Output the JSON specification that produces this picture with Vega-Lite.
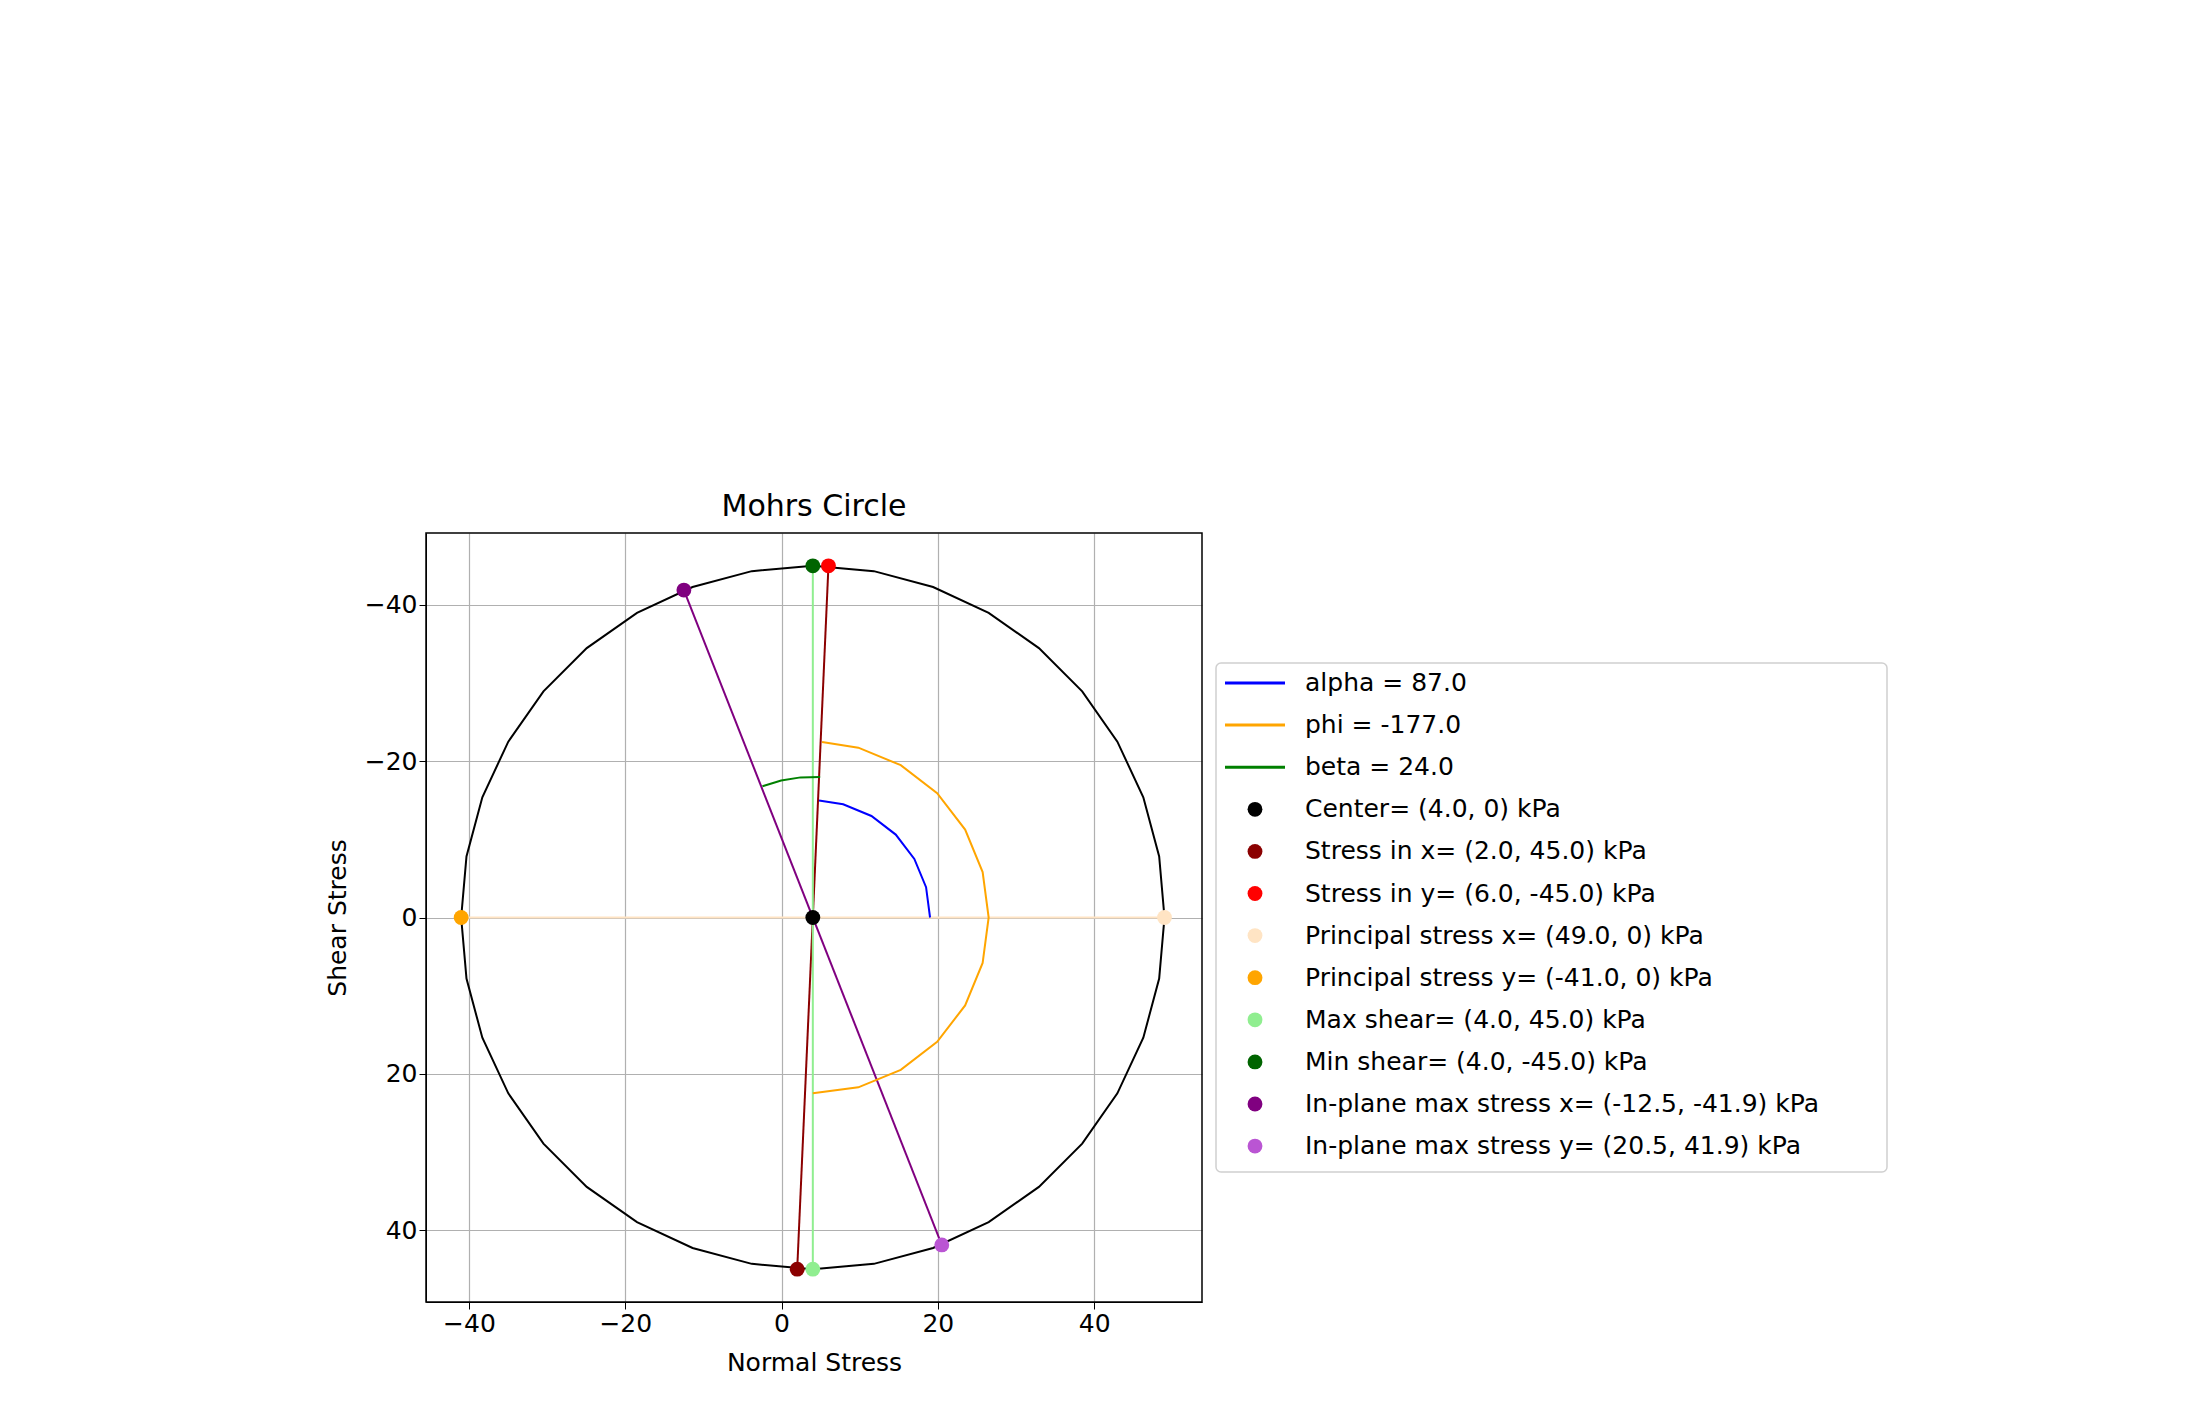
{
  "$schema": "https://vega.github.io/schema/vega-lite/v6.json",
  "background": "white",
  "autosize": {"type": "pad"},
  "padding": {"left": 325, "top": 492, "right": 0, "bottom": 0},
  "config": {
    "font": "DejaVu Sans",
    "view": {"stroke": null},
    "axis": {"labelFont": "DejaVu Sans", "titleFont": "DejaVu Sans", "labelFontSize": 25, "titleFontSize": 25, "titleFontWeight": "normal", "labelColor": "black", "titleColor": "black", "tickColor": "black", "domainColor": "black", "gridColor": "#b0b0b0", "gridWidth": 1.2, "tickSize": 7, "titlePadding": 14}
  },
  "datasets": {
    "lines": [
      {"g": "circle", "o": 0, "x": 49, "y": 0},
      {"g": "circle", "o": 1, "x": 48.32, "y": 7.81},
      {"g": "circle", "o": 2, "x": 46.29, "y": 15.39},
      {"g": "circle", "o": 3, "x": 42.97, "y": 22.5},
      {"g": "circle", "o": 4, "x": 38.47, "y": 28.93},
      {"g": "circle", "o": 5, "x": 32.93, "y": 34.47},
      {"g": "circle", "o": 6, "x": 26.5, "y": 38.97},
      {"g": "circle", "o": 7, "x": 19.39, "y": 42.29},
      {"g": "circle", "o": 8, "x": 11.81, "y": 44.32},
      {"g": "circle", "o": 9, "x": 4, "y": 45},
      {"g": "circle", "o": 10, "x": -3.81, "y": 44.32},
      {"g": "circle", "o": 11, "x": -11.39, "y": 42.29},
      {"g": "circle", "o": 12, "x": -18.5, "y": 38.97},
      {"g": "circle", "o": 13, "x": -24.93, "y": 34.47},
      {"g": "circle", "o": 14, "x": -30.47, "y": 28.93},
      {"g": "circle", "o": 15, "x": -34.97, "y": 22.5},
      {"g": "circle", "o": 16, "x": -38.29, "y": 15.39},
      {"g": "circle", "o": 17, "x": -40.32, "y": 7.81},
      {"g": "circle", "o": 18, "x": -41, "y": 0},
      {"g": "circle", "o": 19, "x": -40.32, "y": -7.81},
      {"g": "circle", "o": 20, "x": -38.29, "y": -15.39},
      {"g": "circle", "o": 21, "x": -34.97, "y": -22.5},
      {"g": "circle", "o": 22, "x": -30.47, "y": -28.93},
      {"g": "circle", "o": 23, "x": -24.93, "y": -34.47},
      {"g": "circle", "o": 24, "x": -18.5, "y": -38.97},
      {"g": "circle", "o": 25, "x": -11.39, "y": -42.29},
      {"g": "circle", "o": 26, "x": -3.81, "y": -44.32},
      {"g": "circle", "o": 27, "x": 4, "y": -45},
      {"g": "circle", "o": 28, "x": 11.81, "y": -44.32},
      {"g": "circle", "o": 29, "x": 19.39, "y": -42.29},
      {"g": "circle", "o": 30, "x": 26.5, "y": -38.97},
      {"g": "circle", "o": 31, "x": 32.93, "y": -34.47},
      {"g": "circle", "o": 32, "x": 38.47, "y": -28.93},
      {"g": "circle", "o": 33, "x": 42.97, "y": -22.5},
      {"g": "circle", "o": 34, "x": 46.29, "y": -15.39},
      {"g": "circle", "o": 35, "x": 48.32, "y": -7.81},
      {"g": "circle", "o": 36, "x": 49, "y": 0},
      {"g": "principal", "o": 0, "x": -41, "y": 0},
      {"g": "principal", "o": 1, "x": 49, "y": 0},
      {"g": "stressxy", "o": 0, "x": 2, "y": 45},
      {"g": "stressxy", "o": 1, "x": 6, "y": -45},
      {"g": "shear", "o": 0, "x": 4, "y": 45},
      {"g": "shear", "o": 1, "x": 4, "y": -45},
      {"g": "inplane", "o": 0, "x": -12.5, "y": -41.9},
      {"g": "inplane", "o": 1, "x": 20.5, "y": 41.9},
      {"g": "alpha", "o": 0, "x": 19, "y": 0},
      {"g": "alpha", "o": 1, "x": 18.49, "y": -3.88},
      {"g": "alpha", "o": 2, "x": 16.99, "y": -7.5},
      {"g": "alpha", "o": 3, "x": 14.61, "y": -10.61},
      {"g": "alpha", "o": 4, "x": 11.5, "y": -12.99},
      {"g": "alpha", "o": 5, "x": 7.88, "y": -14.49},
      {"g": "alpha", "o": 6, "x": 4.79, "y": -14.98},
      {"g": "phi", "o": 0, "x": 5.18, "y": -22.47},
      {"g": "phi", "o": 1, "x": 9.82, "y": -21.73},
      {"g": "phi", "o": 2, "x": 15.25, "y": -19.49},
      {"g": "phi", "o": 3, "x": 19.91, "y": -15.91},
      {"g": "phi", "o": 4, "x": 23.49, "y": -11.25},
      {"g": "phi", "o": 5, "x": 25.73, "y": -5.82},
      {"g": "phi", "o": 6, "x": 26.5, "y": 0},
      {"g": "phi", "o": 7, "x": 25.73, "y": 5.82},
      {"g": "phi", "o": 8, "x": 23.49, "y": 11.25},
      {"g": "phi", "o": 9, "x": 19.91, "y": 15.91},
      {"g": "phi", "o": 10, "x": 15.25, "y": 19.49},
      {"g": "phi", "o": 11, "x": 9.82, "y": 21.73},
      {"g": "phi", "o": 12, "x": 4, "y": 22.5},
      {"g": "beta", "o": 0, "x": 4.94, "y": -17.98},
      {"g": "beta", "o": 1, "x": 2.43, "y": -17.93},
      {"g": "beta", "o": 2, "x": -0.05, "y": -17.54},
      {"g": "beta", "o": 3, "x": -2.45, "y": -16.8}
    ],
    "points": [
      {"g": "center", "x": 4, "y": 0},
      {"g": "sx", "x": 2, "y": 45},
      {"g": "sy", "x": 6, "y": -45},
      {"g": "px", "x": 49, "y": 0},
      {"g": "py", "x": -41, "y": 0},
      {"g": "maxs", "x": 4, "y": 45},
      {"g": "mins", "x": 4, "y": -45},
      {"g": "ipx", "x": -12.5, "y": -41.9},
      {"g": "ipy", "x": 20.5, "y": 41.9}
    ],
    "legend": [
      {"k": "alpha", "r": 0, "label": "alpha = 87.0", "kind": "line"},
      {"k": "phi", "r": 1, "label": "phi = -177.0", "kind": "line"},
      {"k": "beta", "r": 2, "label": "beta = 24.0", "kind": "line"},
      {"k": "center", "r": 3, "label": "Center= (4.0, 0) kPa", "kind": "dot"},
      {"k": "sx", "r": 4, "label": "Stress in x= (2.0, 45.0) kPa", "kind": "dot"},
      {"k": "sy", "r": 5, "label": "Stress in y= (6.0, -45.0) kPa", "kind": "dot"},
      {"k": "px", "r": 6, "label": "Principal stress x= (49.0, 0) kPa", "kind": "dot"},
      {"k": "py", "r": 7, "label": "Principal stress y= (-41.0, 0) kPa", "kind": "dot"},
      {"k": "maxs", "r": 8, "label": "Max shear= (4.0, 45.0) kPa", "kind": "dot"},
      {"k": "mins", "r": 9, "label": "Min shear= (4.0, -45.0) kPa", "kind": "dot"},
      {"k": "ipx", "r": 10, "label": "In-plane max stress x= (-12.5, -41.9) kPa", "kind": "dot"},
      {"k": "ipy", "r": 11, "label": "In-plane max stress y= (20.5, 41.9) kPa", "kind": "dot"}
    ]
  },
  "hconcat": [
    {
      "width": 776,
      "height": 769,
      "title": {"text": "Mohrs Circle", "fontSize": 30, "fontWeight": "normal", "font": "DejaVu Sans", "offset": 10},
      "layer": [
        {
          "data": {"name": "lines"},
          "mark": {"type": "line", "interpolate": "linear", "strokeWidth": 2, "clip": true},
          "encoding": {
            "x": {"field": "x", "type": "quantitative", "scale": {"domain": [-45.5, 53.8], "nice": false, "zero": false}, "axis": {"values": [-40, -20, 0, 20, 40], "title": "Normal Stress", "grid": true}},
            "y": {"field": "y", "type": "quantitative", "scale": {"domain": [-49.2, 49.2], "nice": false, "reverse": true}, "axis": {"values": [-40, -20, 0, 20, 40], "title": "Shear Stress", "grid": true}},
            "order": {"field": "o"},
            "detail": {"field": "g"},
            "color": {"field": "g", "type": "nominal", "legend": null, "scale": {"domain": ["circle", "principal", "stressxy", "shear", "inplane", "alpha", "phi", "beta"], "range": ["black", "#ffe4c4", "#8b0000", "#90ee90", "#800080", "blue", "orange", "green"]}},
            "strokeWidth": {"condition": {"test": "datum.g === 'circle'", "value": 3}, "value": 2}
          }
        },
        {
          "data": {"name": "points"},
          "mark": {"type": "point", "filled": true, "opacity": 1, "size": 220},
          "encoding": {
            "x": {"field": "x", "type": "quantitative"},
            "y": {"field": "y", "type": "quantitative"},
            "color": {"field": "g", "type": "nominal", "legend": null, "scale": {"domain": ["center", "sx", "sy", "px", "py", "maxs", "mins", "ipx", "ipy"], "range": ["black", "#8b0000", "red", "#ffe4c4", "orange", "#90ee90", "#006400", "#800080", "#ba55d3"]}}
          }
        },
        {
          "data": {"values": [{}]},
          "mark": {"type": "rect", "fill": null, "stroke": "black", "strokeWidth": 1.5},
          "encoding": {}
        }
      ],
      "resolve": {"scale": {"color": "independent"}}
    },
    {
      "width": 680,
      "height": 769,
      "layer": [
        {
          "data": {"values": [{"x": 0, "x2": 671, "y": 130, "y2": 639}]},
          "mark": {"type": "rect", "fill": "white", "stroke": "#d0d0d0", "strokeWidth": 1.5, "cornerRadius": 5},
          "encoding": {
            "x": {"field": "x", "type": "quantitative", "scale": {"domain": [0, 680], "nice": false}, "axis": null},
            "x2": {"field": "x2"},
            "y": {"field": "y", "type": "quantitative", "scale": {"domain": [0, 769], "nice": false, "reverse": true}, "axis": null},
            "y2": {"field": "y2"}
          }
        },
        {
          "data": {"name": "legend"},
          "transform": [{"filter": "datum.kind === 'line'"}, {"calculate": "150 + 42.1 * datum.r", "as": "yy"}],
          "mark": {"type": "rule", "strokeWidth": 3},
          "encoding": {
            "x": {"datum": 9, "type": "quantitative"},
            "x2": {"datum": 69},
            "y": {"field": "yy", "type": "quantitative"},
            "color": {"field": "k", "type": "nominal", "legend": null, "scale": {"domain": ["alpha", "phi", "beta"], "range": ["blue", "orange", "green"]}}
          }
        },
        {
          "data": {"name": "legend"},
          "transform": [{"filter": "datum.kind === 'dot'"}, {"calculate": "150 + 42.1 * datum.r", "as": "yy"}],
          "mark": {"type": "point", "filled": true, "opacity": 1, "size": 220},
          "encoding": {
            "x": {"datum": 39, "type": "quantitative"},
            "y": {"field": "yy", "type": "quantitative"},
            "fill": {"field": "k", "type": "nominal", "legend": null, "scale": {"domain": ["center", "sx", "sy", "px", "py", "maxs", "mins", "ipx", "ipy"], "range": ["black", "#8b0000", "red", "#ffe4c4", "orange", "#90ee90", "#006400", "#800080", "#ba55d3"]}}
          }
        },
        {
          "data": {"name": "legend"},
          "transform": [{"calculate": "150 + 42.1 * datum.r", "as": "yy"}],
          "mark": {"type": "text", "align": "left", "baseline": "middle", "fontSize": 25, "font": "DejaVu Sans", "color": "black"},
          "encoding": {
            "x": {"datum": 89, "type": "quantitative"},
            "y": {"field": "yy", "type": "quantitative"},
            "text": {"field": "label"}
          }
        }
      ],
      "resolve": {"scale": {"color": "independent", "fill": "independent"}}
    }
  ],
  "spacing": 12
}
